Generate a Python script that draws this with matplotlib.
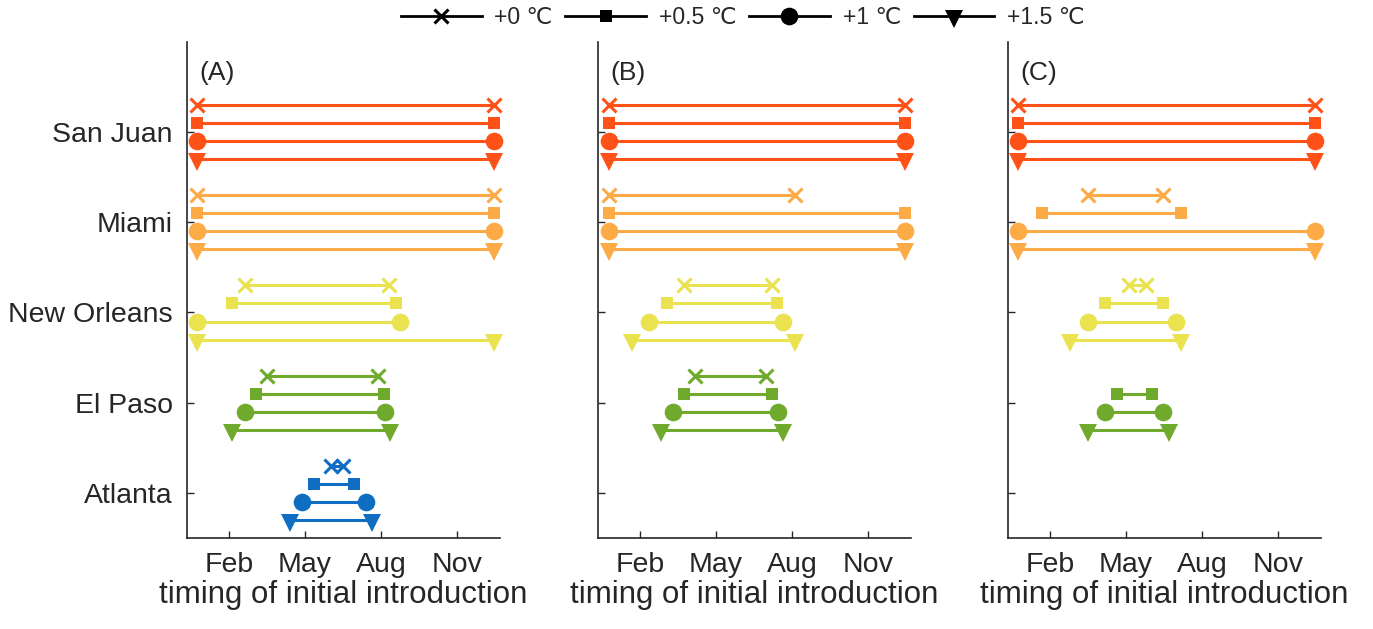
import matplotlib
matplotlib.use("Agg")
import matplotlib.pyplot as plt
import numpy as np
from matplotlib.lines import Line2D
from matplotlib.markers import MarkerStyle
from matplotlib.transforms import Affine2D

plt.rcParams["font.family"] = ["Liberation Sans", "DejaVu Sans"]

cities = ["San Juan", "Miami", "New Orleans", "El Paso", "Atlanta"]
warming = ["+0 ℃", "+0.5 ℃", "+1 ℃", "+1.5 ℃"]
city_colors = ["#FF5218", "#FCAB47", "#EAE24E", "#6FAA2D", "#0F6EC2"]
month_ticks = [2, 5, 8, 11]
month_labels = ["Feb", "May", "Aug", "Nov"]
panel_labels = ["(A)", "(B)", "(C)"]

nan = np.nan
# start / end of introduction window (month scale), rows = city, cols = warming level
start_a = [[0.75, 0.75, 0.75, 0.75],
           [0.75, 0.75, 0.75, 0.75],
           [2.62, 2.13, 0.75, 0.75],
           [3.52, 3.06, 2.62, 2.13],
           [6.05, 5.36, 4.89, 4.40]]
end_a = [[12.47, 12.47, 12.47, 12.47],
         [12.47, 12.47, 12.47, 12.47],
         [8.32, 8.58, 8.75, 12.47],
         [7.87, 8.13, 8.18, 8.35],
         [6.51, 6.93, 7.43, 7.67]]

start_b = [[0.75, 0.75, 0.75, 0.75],
           [0.75, 0.75, 0.75, 0.75],
           [3.74, 3.06, 2.36, 1.67],
           [4.17, 3.74, 3.29, 2.82],
           [nan, nan, nan, nan]]
end_b = [[12.47, 12.47, 12.47, 12.47],
         [8.11, 12.47, 12.47, 12.47],
         [7.19, 7.42, 7.65, 8.11],
         [6.97, 7.21, 7.43, 7.65],
         [nan, nan, nan, nan]]

start_c = [[0.75, 0.75, 0.75, 0.75],
           [3.50, 1.68, 0.75, 0.75],
           [5.11, 4.19, 3.50, 2.79],
           [nan, 4.65, 4.19, 3.50],
           [nan, nan, nan, nan]]
end_c = [[12.47, 12.47, 12.47, 12.47],
         [6.47, 7.17, 12.47, 12.47],
         [5.78, 6.48, 6.96, 7.17],
         [nan, 6.03, 6.48, 6.72],
         [nan, nan, nan, nan]]

# triangle centred on its centroid, like the original
tri = MarkerStyle("v", transform=Affine2D().translate(0, -1 / 6))
markers = ["x", "s", "o", tri]
msizes = [9.5, 9, 12.7, 13.3]
offsets = [-0.3, -0.1, 0.1, 0.3]
txt = "#262626"

fig = plt.figure(figsize=(13.73, 6.29), dpi=100)
lefts = [0.136, 0.4355, 0.734]
panels = [(start_a, end_a), (start_b, end_b), (start_c, end_c)]

for k, (st, en) in enumerate(panels):
    ax = fig.add_axes([lefts[k], 0.145, 0.228, 0.788])
    for i, city in enumerate(cities):
        for j in range(4):
            s, e = st[i][j], en[i][j]
            if np.isnan(s):
                continue
            y = i + 1 + offsets[j]
            ax.plot([s, e], [y, y], color=city_colors[i], lw=2.2,
                    marker=markers[j], ms=msizes[j], mew=2.2 if j == 0 else 0,
                    mec=city_colors[i], mfc=city_colors[i], solid_capstyle="butt",
                    clip_on=False, zorder=3)
    ax.set_xlim(0.33, 12.7)
    ax.set_ylim(5.5, 0)
    ax.set_xticks(month_ticks)
    ax.set_xticklabels(month_labels)
    ax.set_yticks(range(1, 6))
    if k == 0:
        ax.set_yticklabels(cities)
    else:
        ax.set_yticklabels([])
    ax.tick_params(direction="in", length=5, width=1, colors=txt, labelsize=20.5, pad=10)
    ax.spines["top"].set_visible(False)
    ax.spines["right"].set_visible(False)
    for sp in ("left", "bottom"):
        ax.spines[sp].set_color(txt)
        ax.spines[sp].set_linewidth(1.2)
    ax.set_xlabel("timing of initial introduction", fontsize=22.5, color=txt, labelpad=2)
    ax.text(0.04, 0.937, panel_labels[k], transform=ax.transAxes, fontsize=19,
            color=txt, va="center", ha="left")

handles = [Line2D([0], [0], color="black", lw=2, marker=m, ms=s,
                  mew=2.2 if j == 0 else 0, mfc="black", mec="black")
           for j, (m, s) in enumerate(zip(markers, msizes))]
fig.legend(handles, warming, loc="center", bbox_to_anchor=(0.541, 0.972), ncol=4,
           frameon=False, fontsize=16.6, handlelength=3.5, columnspacing=0.55,
           handletextpad=0.55, labelcolor=txt)

fig.savefig("out.png", dpi=100)
